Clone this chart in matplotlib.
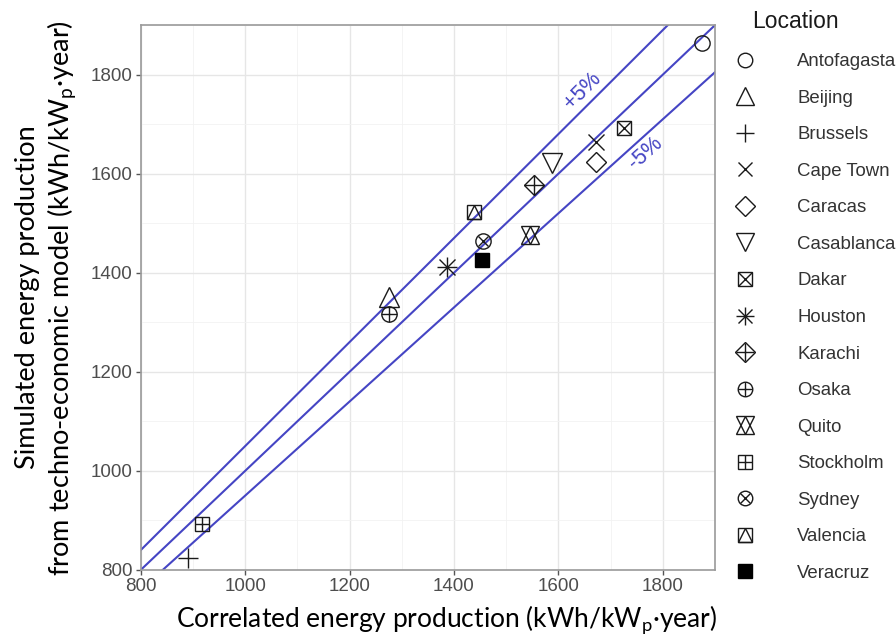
import matplotlib.pyplot as plt
from matplotlib.lines import Line2D
import numpy as np

plt.rcParams['mathtext.fontset'] = 'custom'
plt.rcParams['mathtext.rm'] = 'Lato'

# correlated (x) vs simulated (y) energy production, kWh/kWp*year
locations = ['Antofagasta', 'Beijing', 'Brussels', 'Cape Town', 'Caracas',
             'Casablanca', 'Dakar', 'Houston', 'Karachi', 'Osaka', 'Quito',
             'Stockholm', 'Sydney', 'Valencia', 'Veracruz']
correlated = [1875, 1275, 890, 1672, 1673, 1587, 1725, 1386, 1553, 1275,
              1545, 917, 1455, 1438, 1453]
simulated = [1863, 1351, 824, 1665, 1624, 1622, 1693, 1412, 1578, 1317,
             1477, 893, 1465, 1523, 1426]

# marker pieces overlaid to mimic ggplot shapes 1..15
shapes = {
    'Antofagasta': [('o', 1.0)],
    'Beijing': [('^', 1.25)],
    'Brussels': [('+', 1.3)],
    'Cape Town': [('x', 1.0)],
    'Caracas': [('D', 0.95)],
    'Casablanca': [('v', 1.25)],
    'Dakar': [('s', 0.9), ('x', 0.9)],
    'Houston': [('+', 1.3), ('x', 1.0)],
    'Karachi': [('D', 0.95), ('+', 1.3)],
    'Osaka': [('o', 1.0), ('+', 1.0)],
    'Quito': [('^', 1.2), ('v', 1.2)],
    'Stockholm': [('s', 0.9), ('+', 0.9)],
    'Sydney': [('o', 1.0), ('x', 0.7)],
    'Valencia': [('s', 0.9), ('^', 0.9)],
    'Veracruz': [('sf', 0.9)],
}

ms = 11
fig = plt.figure(figsize=(8.96, 6.38), dpi=100)
ax = fig.add_axes([0.157, 0.1066, 0.641, 0.854])

lim = (800, 1900)
xs = np.array(lim)
line_col = '#4545c4'
ax.plot(xs, xs, color=line_col, lw=1.5, zorder=2)
ax.plot(xs, xs * 1.05, color=line_col, lw=1.5, zorder=2)
ax.plot(xs, xs * 0.95, color=line_col, lw=1.5, zorder=2)
ax.text(1647, 1768, '+5%', color=line_col, fontsize=15.5, family='Liberation Sans',
        rotation=46.4, transform_rotates_text=True, ha='center', va='center')
ax.text(1767, 1642, '-5%', color=line_col, fontsize=15.5, family='Liberation Sans',
        rotation=43.5, transform_rotates_text=True, ha='center', va='center')

handles = []
for loc, xv, yv in zip(locations, correlated, simulated):
    parts = []
    for m, s in shapes[loc]:
        if m == 'sf':
            kw = dict(marker='s', mfc='black', mec='black')
        else:
            kw = dict(marker=m, mfc='none', mec='#1a1a1a')
        ax.plot([xv], [yv], ls='none', ms=ms * s, mew=1.0, zorder=3, **kw)
        parts.append(Line2D([], [], ls='none', ms=ms * s * 0.95, mew=1.0, **kw))
    handles.append(tuple(parts))

ax.set_xlim(lim)
ax.set_ylim(lim)
ax.set_xticks(range(800, 1801, 200))
ax.set_yticks(range(800, 1801, 200))
ax.set_xticks(range(900, 1901, 200), minor=True)
ax.set_yticks(range(900, 1901, 200), minor=True)
ax.grid(which='major', color='#e6e6e6', lw=1.0, zorder=0)
ax.grid(which='minor', color='#f2f2f2', lw=0.6, zorder=0)
ax.set_axisbelow(True)
for sp in ax.spines.values():
    sp.set_color('#9a9a9a')
    sp.set_linewidth(1.2)
ax.tick_params(which='major', length=3.5, width=1, pad=2.5, color='#555555',
               labelcolor='#4d4d4d', labelsize=13.5)
ax.tick_params(which='minor', length=0)
for lab in ax.get_xticklabels() + ax.get_yticklabels():
    lab.set_family('Liberation Sans')

ax.set_xlabel('Correlated energy production (kWh/kW$_\\mathrm{p}$\u00b7year)',
              fontsize=19, family='Lato', labelpad=4)
ax.xaxis.set_label_coords(0.533, -0.06)
ax.set_ylabel('Simulated energy production\nfrom techno-economic model (kWh/kW$_\\mathrm{p}$\u00b7year)',
              fontsize=19.5, family='Lato', labelpad=9)

fig.text(752 / 896, 1 - 21 / 638, 'Location', fontsize=16.5, family='Liberation Sans',
         color='#1a1a1a', ha='left', va='center')
leg = fig.legend(handles, locations, loc='upper left',
                 bbox_to_anchor=(734 / 896, 1 - 53 / 638),
                 frameon=False, borderaxespad=0, borderpad=0,
                 labelspacing=1.05, handlelength=1.2, handletextpad=2.2,
                 prop={'family': 'Liberation Sans', 'size': 13.4})
for t in leg.get_texts():
    t.set_color('#333333')

fig.savefig('out.png', dpi=100)
